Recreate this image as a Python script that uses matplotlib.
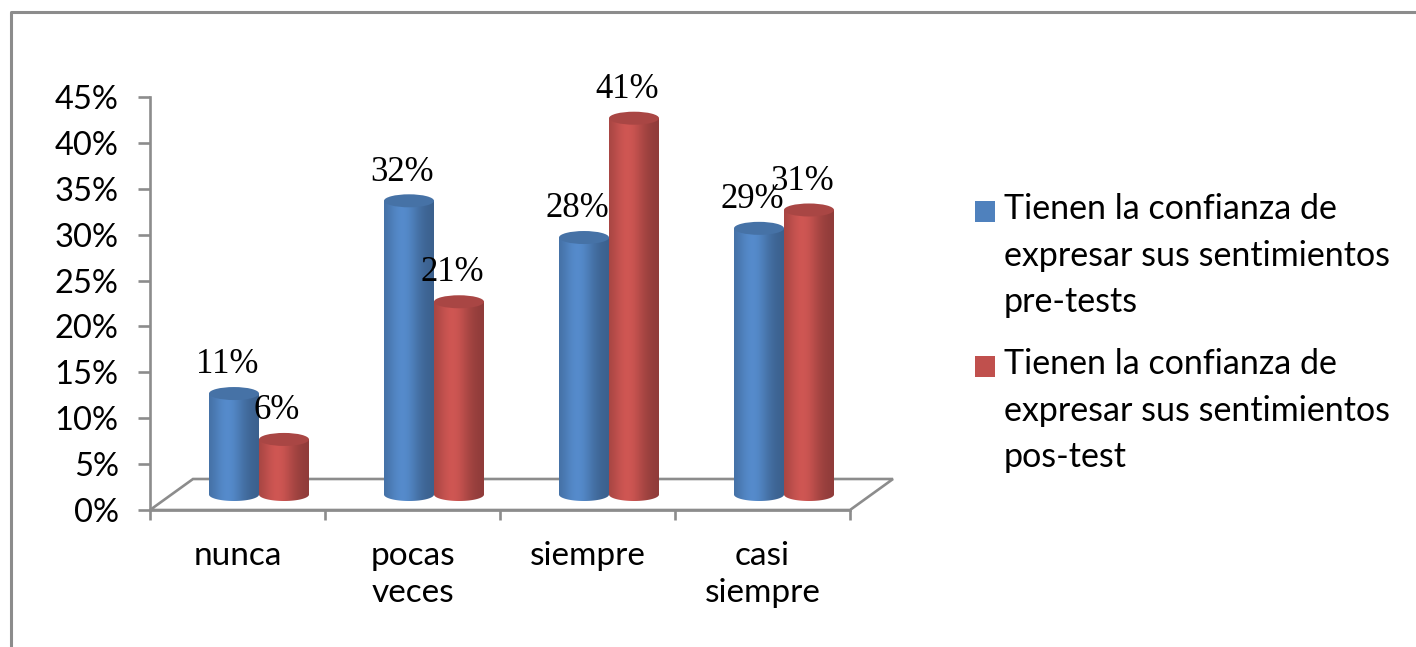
import matplotlib
matplotlib.use("Agg")
import matplotlib.pyplot as plt
import numpy as np
from matplotlib.patches import Ellipse, PathPatch, Rectangle, Polygon
from matplotlib.path import Path
from matplotlib.lines import Line2D

# ---Données du graphique-----------
categories = ["nunca", "pocas\nveces", "siempre", "casi\nsiempre"]
pre_test = [11, 32, 28, 29]
pos_test = [6, 21, 41, 31]
series_labels = [
    "Tienen la confianza de\nexpresar sus sentimientos\npre-tests",
    "Tienen la confianza de\nexpresar sus sentimientos\npos-test",
]
y_ticks = [0, 5, 10, 15, 20, 25, 30, 35, 40, 45]

# ---Style---------------------------
BLUE = "#4F81BD"
RED = "#C0504D"
GRIS = "#8C8C8C"
plt.rcParams["font.family"] = ["Lato", "DejaVu Sans"]

W, H, DPI = 1416, 647, 100
PX_X = 175.0      # pixels par catégorie
PX_Y = 9.178      # pixels par point de pourcentage
X0_PX, Y0_PX = 150, 510

# profondeur du socle 3D (en unités de données)
DX = 43 / PX_X
DY = 31 / PX_Y
BASE = DY / 2          # les cylindres reposent au milieu du socle
A = 25 / PX_X          # demi-largeur d'un cylindre
B = 6.5 / PX_Y         # demi-hauteur de l'ellipse
DECAL = DX / 2         # décalage horizontal dû à la profondeur

fig = plt.figure(figsize=(W / DPI, H / DPI), dpi=DPI)
fig.patch.set_facecolor("white")

xlim = (-0.5, 3.8)
ylim = (0, 46)
left = X0_PX / W
width = (xlim[1] - xlim[0]) * PX_X / W
bottom = (H - Y0_PX) / H
height = ylim[1] * PX_Y / H
ax = fig.add_axes([left, bottom, width, height])
ax.set_xlim(*xlim)
ax.set_ylim(*ylim)
ax.patch.set_alpha(0)

for s in ["top", "right"]:
    ax.spines[s].set_visible(False)
ax.spines["left"].set_bounds(0, 45)
ax.spines["bottom"].set_bounds(-0.5, 3.5)
for s in ["left", "bottom"]:
    ax.spines[s].set_color(GRIS)
    ax.spines[s].set_linewidth(1.9)

ax.set_yticks(y_ticks)
ax.set_yticklabels([f"{v}%" for v in y_ticks], fontsize=23.5)
ax.tick_params(axis="y", length=8.6, width=1.9, color=GRIS, pad=14)

ax.set_xticks(range(len(categories)))
ax.set_xticklabels(categories, fontsize=24, linespacing=1.3)
ax.set_xticks([i - 0.5 for i in range(len(categories) + 1)], minor=True)
ax.tick_params(axis="x", which="major", length=0, pad=22)
ax.tick_params(axis="x", which="minor", length=7.2, width=1.9, color=GRIS)

# ---Socle en perspective------------
sol = Polygon([(-0.5, 0), (-0.5 + DX, DY), (3.5 + DX, DY), (3.5, 0)],
              closed=True, facecolor="white", edgecolor=GRIS, linewidth=1.9,
              clip_on=False, zorder=1)
ax.add_patch(sol)


def degrade(couleur, n=200):
    rgb = np.array(matplotlib.colors.to_rgb(couleur))
    t = np.linspace(0, 1, n)
    f = 0.80 + 0.30 * np.exp(-((t - 0.38) / 0.33) ** 2) - 0.06 * t
    img = np.clip(rgb[None, :] * f[:, None], 0, 1)
    return img[None, :, :]


def cylindre(cx, valeur, couleur, zorder):
    bas = BASE
    haut = BASE + valeur
    x0, x1 = cx - A, cx + A
    th = np.linspace(np.pi, 2 * np.pi, 60)
    bord_bas = np.column_stack([cx + A * np.cos(th), bas + B * np.sin(th)])
    pts = np.vstack([[x0, haut], bord_bas, [x1, haut], [x0, haut]])
    chemin = PathPatch(Path(pts), facecolor="none", edgecolor="none")
    ax.add_patch(chemin)
    im = ax.imshow(degrade(couleur), extent=(x0, x1, bas - B, haut),
                   aspect="auto", zorder=zorder, interpolation="bilinear")
    im.set_clip_path(chemin)
    top_rgb = np.array(matplotlib.colors.to_rgb(couleur)) * 0.88
    ax.add_patch(Ellipse((cx, haut), 2 * A, 2 * B, facecolor=top_rgb,
                         edgecolor="none", zorder=zorder + 0.1))
    ax.text(cx - 0.04, haut + B + 1.5, f"{valeur}%", ha="center",
            va="baseline", fontsize=25, family="Liberation Serif",
            zorder=zorder + 5)


for i in range(len(categories)):
    cylindre(i + DECAL - A, pre_test[i], BLUE, 3)
    cylindre(i + DECAL + A, pos_test[i], RED, 4)

ax.set_xlim(*xlim)
ax.set_ylim(*ylim)

# ---Légende-------------------------
for k, (lab, col) in enumerate(zip(series_labels, [BLUE, RED])):
    y_prem = (H - 222 - k * 155) / H      # ligne de base de la 1re ligne
    y_der = (H - 312 - k * 155) / H       # ligne de base de la dernière
    fig.patches.append(Rectangle((975 / W, y_prem), 20 / W, 21 / H,
                                 transform=fig.transFigure, facecolor=col,
                                 edgecolor="none"))
    fig.text(1004 / W, y_der, lab, fontsize=24.5, va="baseline", ha="left",
             linespacing=1.55)

# ---Cadre---------------------------
fig.add_artist(Line2D([11 / W, 11 / W, 1], [0, 1 - 12 / H, 1 - 12 / H],
                      transform=fig.transFigure, color=GRIS, linewidth=2.2))

fig.savefig("out.png", dpi=DPI)
